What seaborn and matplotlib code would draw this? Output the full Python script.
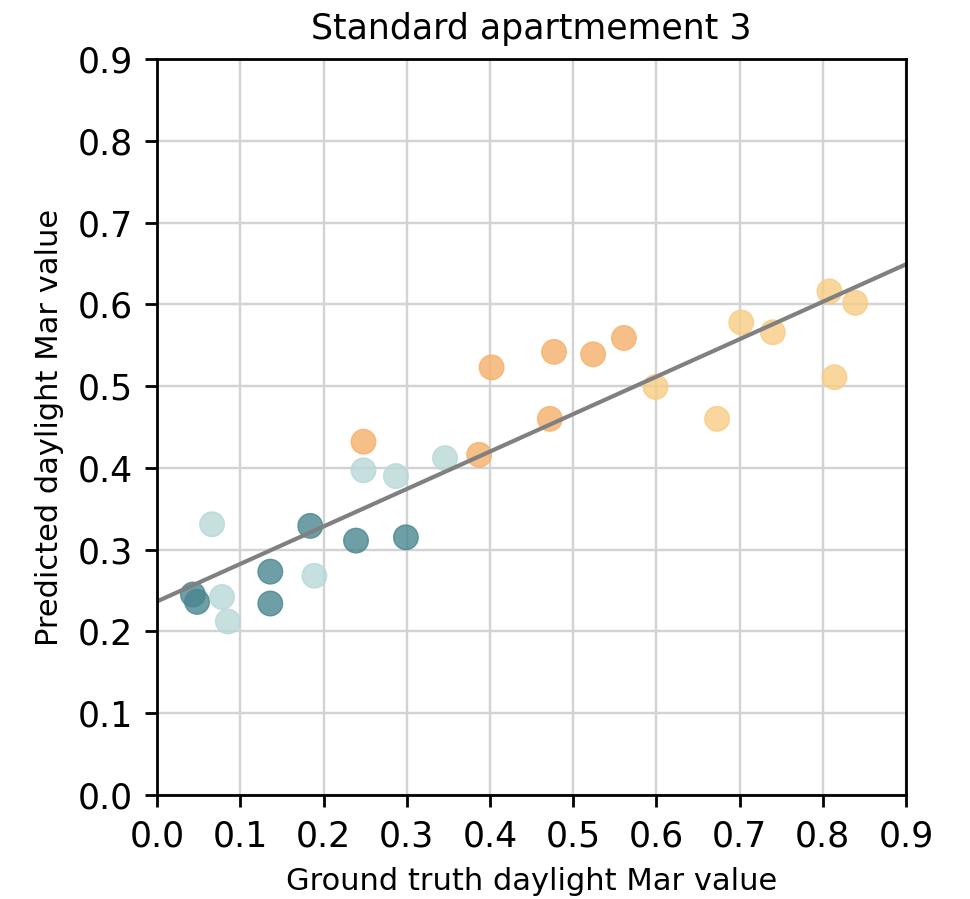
import numpy as np
import pandas as pd
import matplotlib
matplotlib.use("Agg")
import matplotlib.pyplot as plt
import seaborn as sns

# values
dark_x = [0.043, 0.048, 0.136, 0.136, 0.184, 0.239, 0.299]
dark_y = [0.245, 0.236, 0.273, 0.234, 0.329, 0.311, 0.315]

light_x = [0.066, 0.078, 0.085, 0.189, 0.248, 0.287, 0.346]
light_y = [0.331, 0.242, 0.212, 0.268, 0.397, 0.390, 0.412]

orange_x = [0.248, 0.387, 0.402, 0.472, 0.477, 0.524, 0.561]
orange_y = [0.432, 0.416, 0.523, 0.460, 0.542, 0.539, 0.559]

yellow_x = [0.599, 0.673, 0.702, 0.740, 0.808, 0.839, 0.814]
yellow_y = [0.499, 0.460, 0.578, 0.566, 0.616, 0.602, 0.511]

groups = ["dark", "light", "orange", "yellow"]
palette = {"dark": "#4a8690", "light": "#b8d7d7",
           "orange": "#f5b06a", "yellow": "#f7cc84"}

df = pd.concat([
    pd.DataFrame({"gt": dark_x, "pred": dark_y, "group": "dark"}),
    pd.DataFrame({"gt": light_x, "pred": light_y, "group": "light"}),
    pd.DataFrame({"gt": orange_x, "pred": orange_y, "group": "orange"}),
    pd.DataFrame({"gt": yellow_x, "pred": yellow_y, "group": "yellow"}),
], ignore_index=True)

ticks = np.round(np.arange(0, 0.91, 0.1), 1)

fig, ax = plt.subplots(figsize=(3.88, 3.596), dpi=250)
fig.subplots_adjust(left=0.162, right=0.934, top=0.934, bottom=0.116)

ax.set_xlim(0, 0.9)
ax.set_ylim(0, 0.9)
ax.grid(True, color="#d3d3d3", linewidth=0.7)
ax.set_axisbelow(True)

sns.scatterplot(data=df, x="gt", y="pred", hue="group", hue_order=groups,
                palette=palette, s=50, alpha=0.8, edgecolor="face",
                linewidth=0.4, legend=False, ax=ax)

sns.regplot(data=df, x="gt", y="pred", scatter=False, ci=None,
            truncate=False, color="gray", line_kws={"linewidth": 1.2},
            ax=ax)

ax.set_xlim(0, 0.9)
ax.set_ylim(0, 0.9)
ax.set_xticks(ticks)
ax.set_yticks(ticks)
ax.set_xticklabels([f"{t:.1f}" for t in ticks])
ax.set_yticklabels([f"{t:.1f}" for t in ticks])
ax.tick_params(labelsize=10)

ax.set_title("Standard apartmement 3", fontsize=10)
ax.set_xlabel("Ground truth daylight Mar value", fontsize=8.8)
ax.set_ylabel("Predicted daylight Mar value", fontsize=8.8)

fig.savefig("out.png", dpi=250)
